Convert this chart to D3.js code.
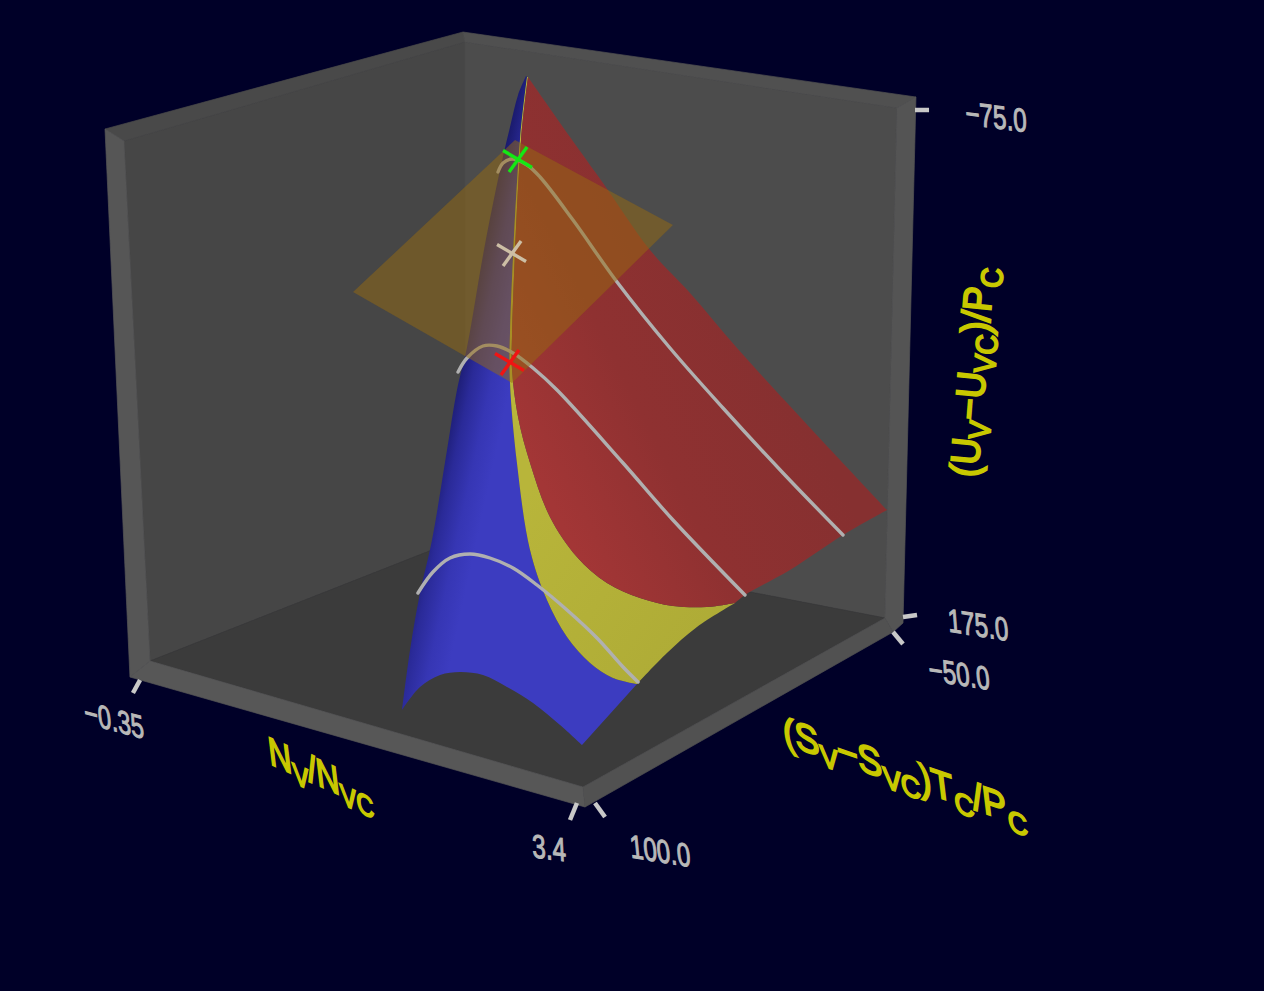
<!DOCTYPE html>
<html><head><meta charset="utf-8">
<script src="https://cdn.jsdelivr.net/npm/d3@7/dist/d3.min.js"></script>
<style>html,body{margin:0;padding:0;background:#000028;overflow:hidden}svg{display:block}</style>
</head><body><div id="c"></div>
<script>
// All points are [Nv/Nvc, (Uv-Uvc)/Pc].
const nDomain = [-0.35, 3.4];
const uDomain = [-75, 175];

// Box corners
const outerTL=[-0.6,-65.5], outerTB=[2.383,-114], outerTR=[6.158,-81.5], outerRB=[6.05,181.5],
      outerR=[5.967,186], outerF=[3.4,273.5], outerLB=[-0.392,208.5],
      innerTL=[-0.442,-59.5], innerTB=[2.4,-109], innerTR=[6,-76], innerR=[5.9,179],
      innerF=[3.383,263.5], innerL=[-0.225,200.5], floorBack=[2.4,138.5];

// Surface boundaries
const blueLeft=[[2.908,-92],[2.842,-82.5],[2.775,-66.5],[2.692,-45],[2.558,-5],[2.417,43.5],[2.333,65],[2.25,95],[2.125,140],[2.025,166.5],[1.942,195],[1.875,225]];
const blueArch=[[1.875,225],[2.025,213.5],[2.192,207.5],[2.358,206],[2.55,207.5],[2.75,213.5],[2.967,221.5],[3.192,232.5],[3.375,242.5]];
const blueFoot=[[3.375,242.5],[3.833,212]];
const bluePeak=[[3.833,212],[3.633,209],[3.442,201.5],[3.25,188.5],[3.083,170],[2.942,145],[2.833,101.5],[2.775,61.5],[2.775,36.5],[2.858,-60],[2.917,-91.5]];
const yellowEdge=[[3.833,212],[4.083,196.5],[4.333,183.5],[4.65,171.5]];
const redOuter=[[2.925,-91.5],[3.275,-61.5],[3.55,-38.5],[3.942,-5],[4.275,16.5],[4.667,44],[5.192,78.5],[5.917,125]];
const redFront=[[5.917,125],[5.55,137.5],[5.108,155],[4.733,167.5],[4.65,171.5]];
const redInner=[[4.65,171.5],[4.417,173.5],[4.133,173],[3.858,169],[3.583,161.5],[3.333,148.5],[3.108,128.5],[2.942,101.5],[2.842,78.5],[2.792,55],[2.792,37.5],[2.867,-60],[2.925,-91.5]];
const tangentPlane=[[1.467,16],[2.817,-60],[4.133,-17.5],[2.792,61.5]];

// Isotherm curves
const curveUpper=[[2.675,-44],[2.717,-48.5],[2.792,-50.5],[2.917,-47.5],[3.025,-41.5],[3.3,-20],[3.667,11],[4.108,44],[4.55,74],[5.05,106.5],[5.55,137.5]];
const curveMiddle=[[2.342,56],[2.417,49],[2.55,43],[2.667,43],[2.8,46.5],[2.967,54],[3.167,65],[3.717,101.5],[4.133,130],[4.733,167.5]];
const curveLower=[[2.008,166.5],[2.133,156],[2.275,149],[2.442,147],[2.608,149],[2.8,154],[3,162.5],[3.25,175],[3.5,189],[3.717,203.5],[3.842,211]];

// Crosses
const crossGreen=[2.842,-50.5], crossTan=[2.792,-3.5], crossRed=[2.775,51];

// Tick labels and axis titles
const tickLabels=["\u22120.35","3.4","100.0","\u221250.0","175.0","\u221275.0"];
const tickFrom=[[-0.308,210],[3.333,271.5],[3.483,271.5],[5.967,186],[6.05,178.5],[6.15,-75]];
const tickTo=[[-0.367,216.5],[3.275,280],[3.567,278.5],[6.05,192],[6.167,177.5],[6.267,-75]];
const tickLabelAt=[[-0.525,230],[3.1,294],[4.025,295.5],[6.517,207],[6.675,182.5],[6.825,-71.5]];
const tickAngles=[15,7,9,9,9,7];
const tickLean=[0.1,0.05,0.1,0.1,0.08,0.05];
const titleN=[["N",0],["V",1],["/N",0],["VC",1]];
const titleS=[["(S",0],["V",1],["\u2212S",0],["VC",1],[")T",0],["C",1],["/P",0],["C",1]];
const titleU=[["(U",0],["V",1],["\u2212U",0],["VC",1],[")/P",0],["C",1]];
const titleAt=[[1.208,263.5],[6.075,263],[6.74,56.5]];
const titleAngles=[24,19,-85.5];
const titleLean=[[0.12,1],[0.12,1],[1,0.1]];
const titleWidth=[0.87,0.95,0.92];

const W=1264,H=991;
const svg=d3.select("#c").append("svg").attr("width",W).attr("height",H);
svg.append("rect").attr("width",W).attr("height",H).attr("fill","#000028");
const x=d3.scaleLinear().domain(nDomain).range([135,585]);
const y=d3.scaleLinear().domain(uDomain).range([110,610]);
const px=p=>[x(p[0]),y(p[1])];

const defs=svg.append("defs");
function grad(id,a,b,stops){
  const g=defs.append("linearGradient").attr("id",id).attr("gradientUnits","userSpaceOnUse")
    .attr("x1",a[0]).attr("y1",a[1]).attr("x2",b[0]).attr("y2",b[1]);
  stops.forEach(s=>g.append("stop").attr("offset",s[0]).attr("stop-color",s[1]));
}
grad("gBlue",[415,560],[470,572],[[0,"#1a1a6c"],[0.3,"#2a2a98"],[0.65,"#3636b4"],[1,"#3c3cc0"]]);
grad("gRed",[560,520],[800,400],[[0,"#a33636"],[0.45,"#8f3131"],[1,"#863030"]]);
grad("gYellow",[520,500],[720,640],[[0,"#b8b53a"],[1,"#aeab36"]]);

const poly=(pts,fill)=>svg.append("path")
  .attr("d",d3.line().x(d=>x(d[0])).y(d=>y(d[1])).curve(d3.curveLinearClosed)(pts)).attr("fill",fill);
const wall=(pts,fill)=>poly(pts,fill).attr("stroke",fill).attr("stroke-width",0.7);

// Box
wall([innerTL,innerTB,floorBack,innerL],"#464646");
wall([innerTB,innerTR,innerR,floorBack],"#4c4c4c");
wall([floorBack,innerR,innerF,innerL],"#3b3b3b");
wall([outerTL,outerTB,innerTB,innerTL],"#494949");
wall([outerTB,outerTR,innerTR,innerTB],"#505050");
wall([outerTL,innerTL,innerL,outerLB],"#565656");
wall([outerTR,outerRB,outerR,innerR,innerTR],"#545454");
wall([outerLB,innerL,innerF,outerF],"#575757");
wall([outerF,innerF,innerR,outerR],"#515151");

const smooth=d3.line().x(d=>x(d[0])).y(d=>y(d[1])).curve(d3.curveCatmullRom.alpha(0.5));
const joined=(...pieces)=>pieces.map((p,i)=>{const s=smooth(p);return i?"L"+s.slice(1):s;}).join("")+"Z";

svg.append("path").attr("d",joined(blueLeft,blueArch,blueFoot,bluePeak)).attr("fill","url(#gBlue)");
svg.append("path").attr("d",joined(bluePeak.slice().reverse(),yellowEdge,redInner)).attr("fill","url(#gYellow)");
svg.append("path").attr("d",joined(redOuter,redFront,redInner)).attr("fill","url(#gRed)");

// Curves
[curveUpper,curveMiddle,curveLower].forEach(c=>svg.append("path").attr("d",smooth(c))
  .attr("fill","none").attr("stroke","#b0b0b0").attr("stroke-width",3.4).attr("stroke-linecap","round"));

function cross(c,color){
  const [cx,cy]=px(c);
  const g=svg.append("g").attr("transform",`translate(${cx},${cy})`).attr("stroke",color).attr("stroke-width",3.4);
  g.append("line").attr("x1",-15).attr("y1",-8.5).attr("x2",14).attr("y2",8.5);
  g.append("line").attr("x1",9).attr("y1",-12).attr("x2",-9).attr("y2",13);
}
poly(tangentPlane,"#966a10").attr("fill-opacity",0.5);
cross(crossTan,"#cdbfa5");
cross(crossGreen,"#14e814");
cross(crossRed,"#f01414");

// Ticks
svg.append("g").selectAll("line").data(tickFrom).join("line")
  .attr("x1",d=>x(d[0])).attr("y1",d=>y(d[1]))
  .attr("x2",(d,i)=>x(tickTo[i][0])).attr("y2",(d,i)=>y(tickTo[i][1]))
  .attr("stroke","#c8c8c8").attr("stroke-width",4.5);

const sheared=(at,deg,sc,down)=>{
  const a=deg*Math.PI/180;
  return `matrix(${sc*Math.cos(a)},${sc*Math.sin(a)},${down[0]},${down[1]},${x(at[0])},${y(at[1])})`;
};
svg.append("g").selectAll("text").data(tickLabels).join("text")
  .attr("transform",(d,i)=>sheared(tickLabelAt[i],tickAngles[i],0.74,[tickLean[i],1]))
  .attr("text-anchor","middle").attr("dominant-baseline","central")
  .attr("font-family","'Liberation Sans',Arial,sans-serif").attr("font-size",33)
  .attr("fill","#b8b8b8").attr("stroke","#b8b8b8").attr("stroke-width",1.1).text(d=>d);

// Axis titles
[titleN,titleS,titleU].forEach((t,i)=>{
  const text=svg.append("text")
    .attr("transform",sheared(titleAt[i],titleAngles[i],titleWidth[i],titleLean[i]))
    .attr("text-anchor","middle")
    .attr("font-family","'Liberation Sans',Arial,sans-serif")
    .attr("fill","#c8c800").attr("stroke","#c8c800").attr("stroke-width",2);
  let prev=0;
  t.forEach(([s,sub])=>{
    text.append("tspan").attr("font-size",sub?30:40)
      .attr("dy",sub===prev?0:(sub?9:-9)).text(s);
    prev=sub;
  });
});
</script></body></html>
